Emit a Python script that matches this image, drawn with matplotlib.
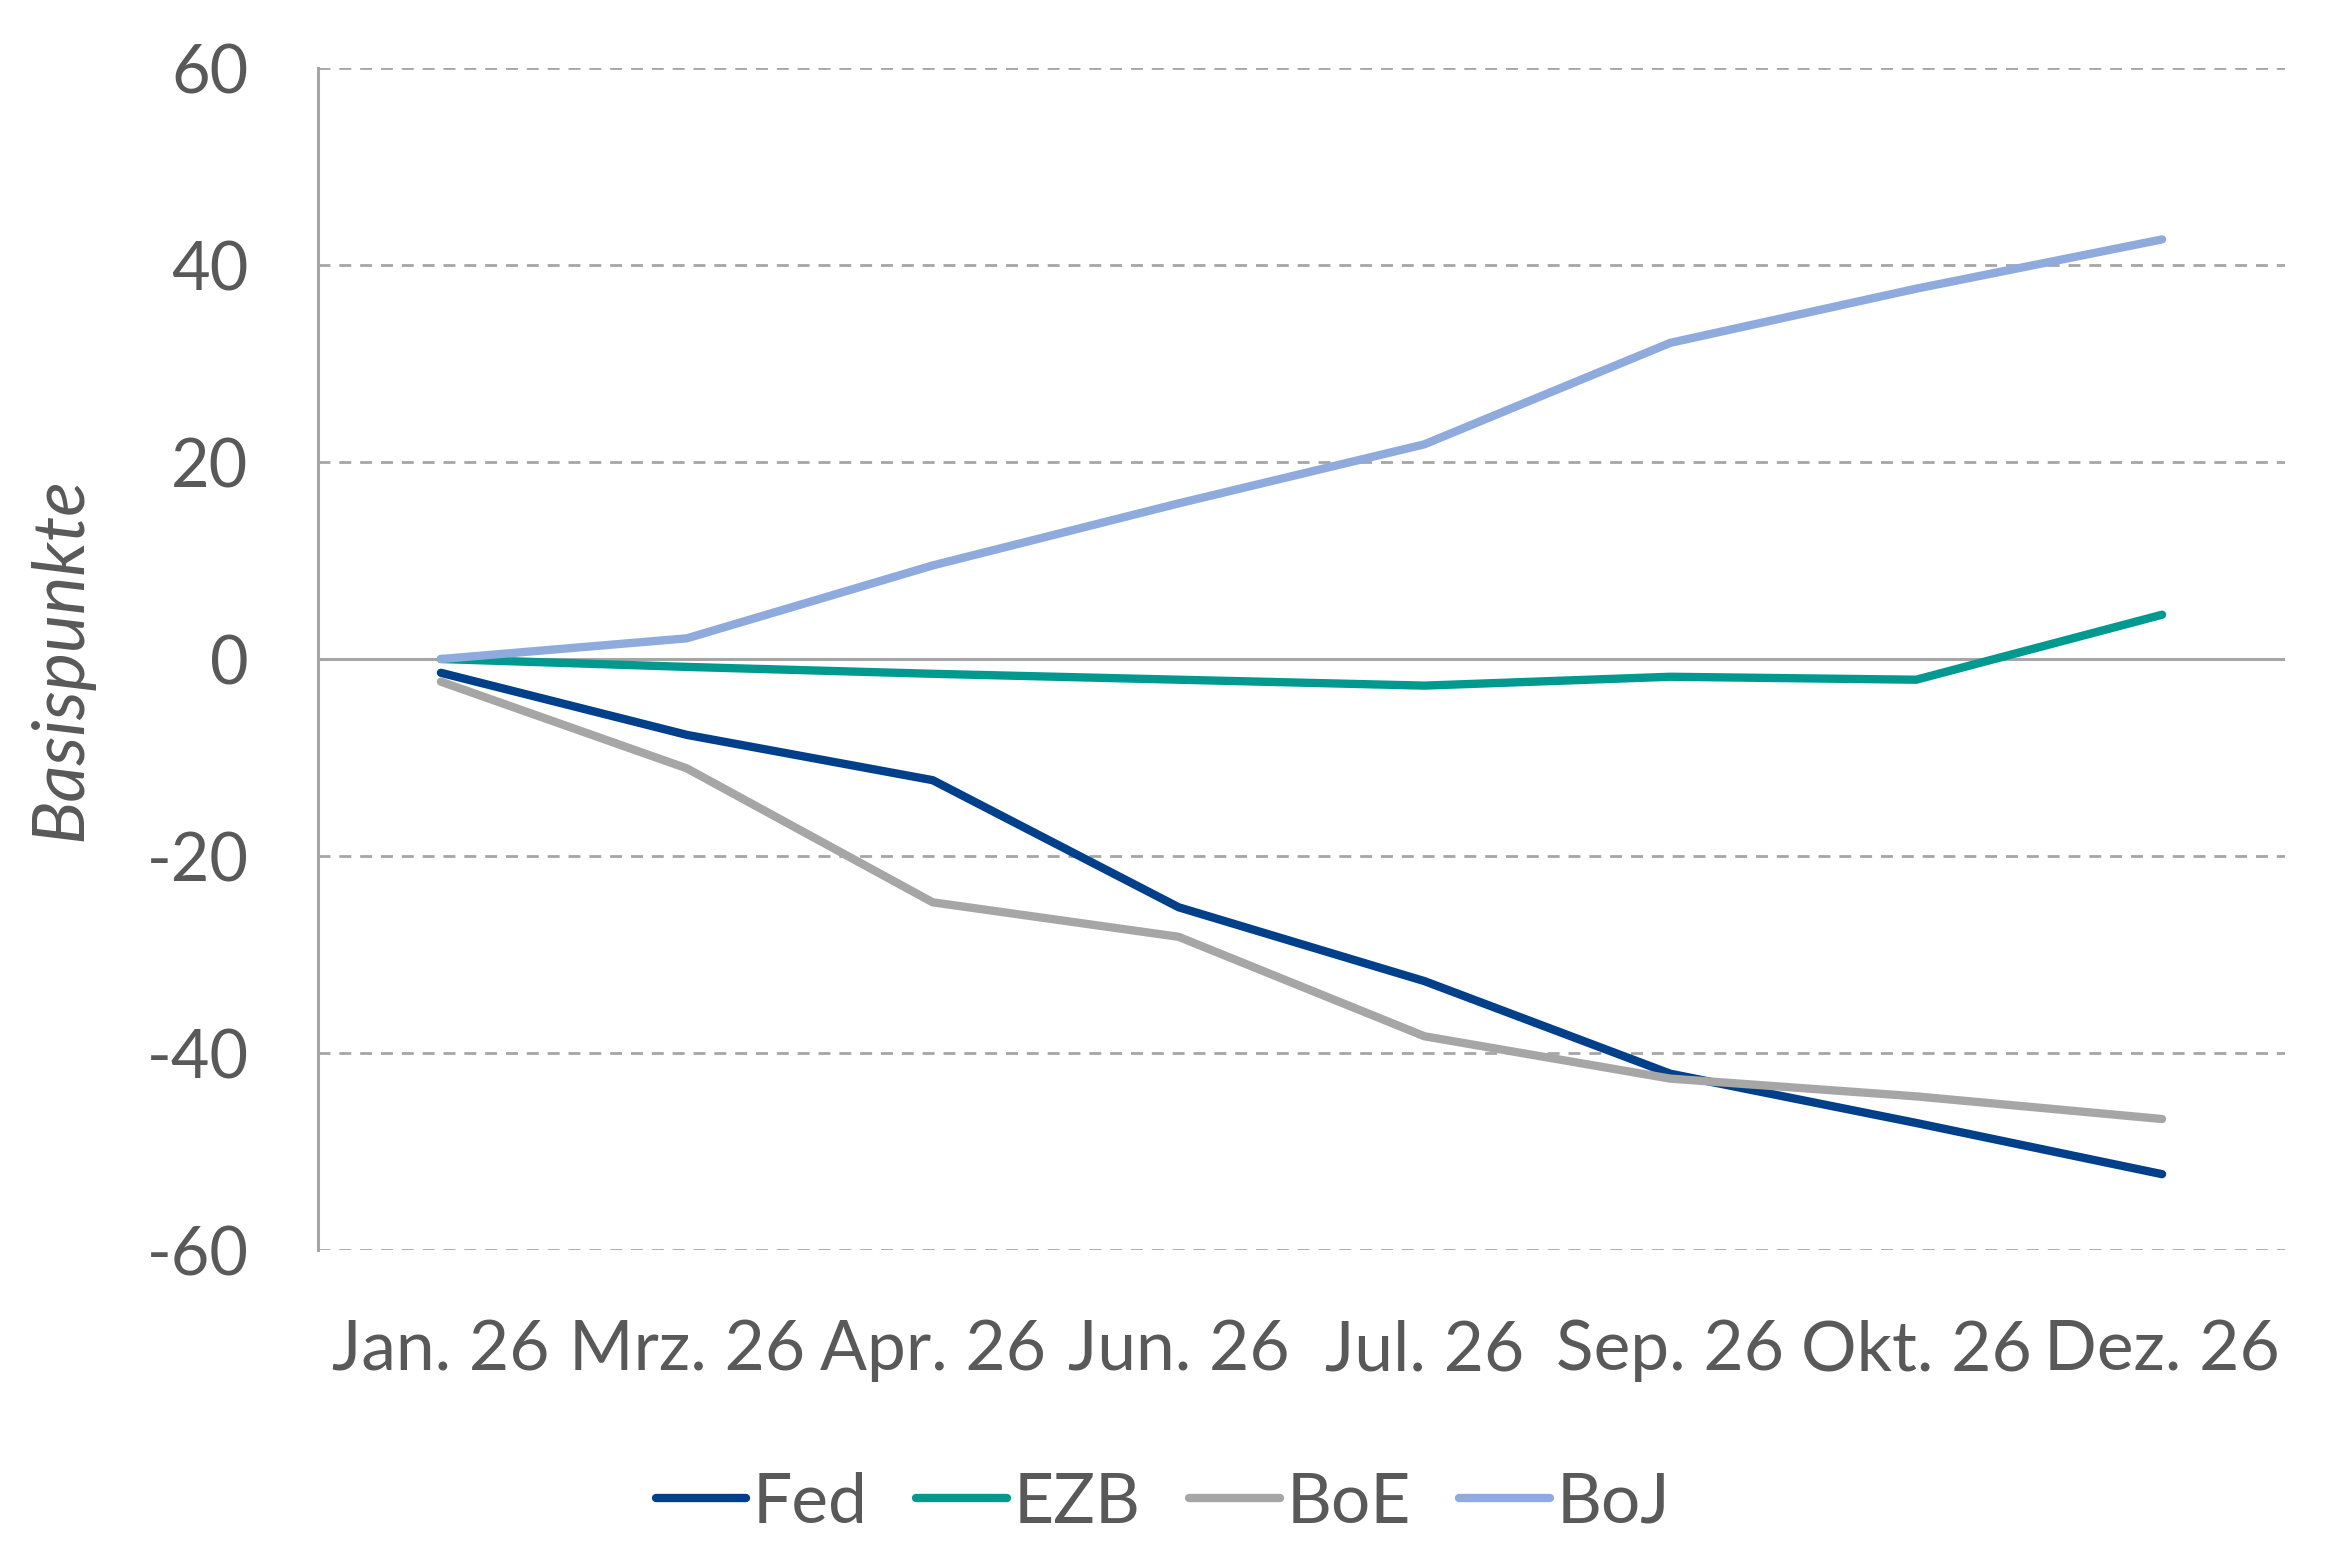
import matplotlib

matplotlib.use("Agg")

import matplotlib.pyplot as plt
import numpy as np

plt.rcParams["font.family"] = ["Lato", "DejaVu Sans"]

months = ["Jan. 26", "Mrz. 26", "Apr. 26", "Jun. 26", "Jul. 26", "Sep. 26", "Okt. 26", "Dez. 26"]
fed = [-1.4, -7.7, -12.3, -25.2, -32.7, -42.1, -47.1, -52.3]
ezb = [0.0, -0.8, -1.5, -2.1, -2.7, -1.8, -2.1, 4.5]
boe = [-2.3, -11.1, -24.7, -28.2, -38.3, -42.6, -44.4, -46.7]
boj = [0.0, 2.1, 9.5, 15.8, 21.8, 32.1, 37.6, 42.6]
y_ticks = [-60, -40, -20, 0, 20, 40, 60]

series = [
    ("Fed", fed, "#003f8a"),
    ("EZB", ezb, "#00998f"),
    ("BoE", boe, "#a6a6a6"),
    ("BoJ", boj, "#8faadc"),
]

text_color = "#595959"
grid_color = "#a6a6a6"

fig = plt.figure(figsize=(23.4, 15.6), dpi=100)
ax = fig.add_axes([0.1359, 0.1987, 0.8406, 0.7577])

x = np.arange(len(months))
for name, values, color in series:
    ax.plot(x, values, color=color, linewidth=6, label=name, solid_capstyle="round", zorder=3)

ax.set_xlim(-0.5, len(months) - 0.5)
ax.set_ylim(-60, 60)
ax.set_yticks(y_ticks)
ax.set_yticklabels([str(v) for v in y_ticks])
ax.set_xticks(x)
ax.set_xticklabels(months)

# Gitterlinien gestrichelt, Nulllinie durchgezogen
for v in y_ticks:
    if v == 0:
        ax.axhline(0, color=grid_color, linewidth=2.2, zorder=2)
    else:
        ax.axhline(v, color=grid_color, linewidth=2, linestyle=(0, (4.3, 3.2)), zorder=1)

for side in ["top", "right", "bottom"]:
    ax.spines[side].set_visible(False)
ax.spines["left"].set_color(grid_color)
ax.spines["left"].set_linewidth(2.2)

ax.tick_params(axis="y", length=0, pad=50, labelsize=48, labelcolor=text_color)
ax.tick_params(axis="x", length=0, pad=50, labelsize=50, labelcolor=text_color)

fig.text(0.026, 1 - 659 / 1560, "Basispunkte", rotation=90, ha="center", va="center",
         fontsize=52, style="italic", color=text_color)

legend = fig.legend(
    loc="center",
    bbox_to_anchor=(0.497, 0.0365),
    ncol=4,
    frameon=False,
    fontsize=50,
    handlelength=1.3,
    handletextpad=0.1,
    columnspacing=0.7,
)
for text in legend.get_texts():
    text.set_color(text_color)

fig.savefig("out.png", dpi=100)
